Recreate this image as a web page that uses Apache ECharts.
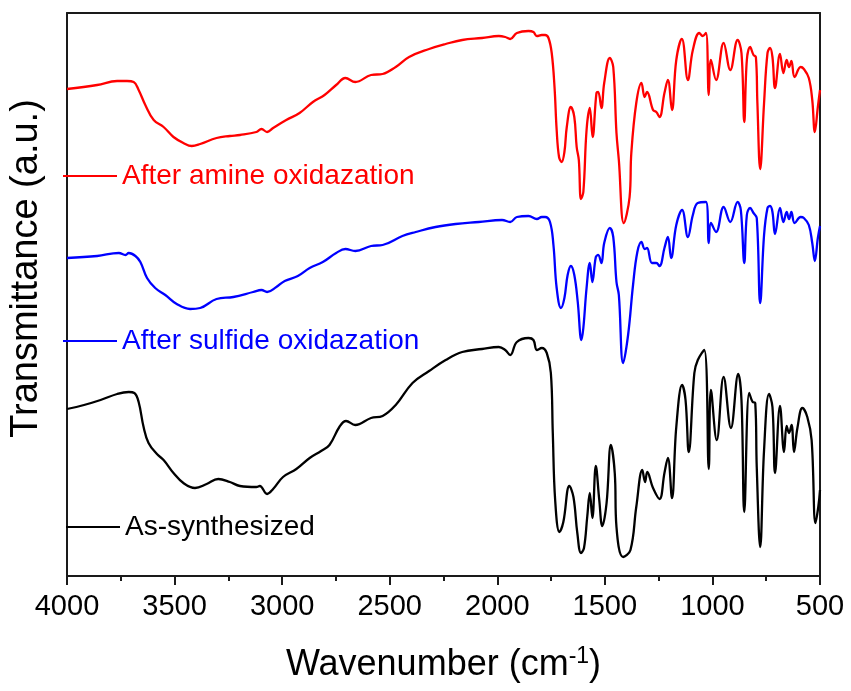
<!DOCTYPE html>
<html>
<head>
<meta charset="utf-8">
<script src="https://cdn.jsdelivr.net/npm/echarts@6/dist/echarts.min.js"></script>
<style>
html,body{margin:0;padding:0;background:#fff;}
#chart{width:851px;height:691px;}
</style>
</head>
<body>
<div id="chart"></div>
<script>
// x-axis ticks
const xTicks = [4000, 3500, 3000, 2500, 2000, 1500, 1000, 500];

// After amine oxidazation (red)
const wnAmine = [4000,3860,3767,3721,3690,3667,3636,3597,3551,3505,3459,3420,3381,3305,3243,3196,3120,3096,3070,3042,2981,2919,2857,2803,2749,2706,2660,2587,2533,2472,2410,2317,2240,2163,2071,1993,1963,1940,1909,1855,1832,1816,1793,1778,1762,1747,1734,1724,1713,1701,1688,1677,1658,1642,1631,1621,1611,1600,1585,1570,1557,1539,1531,1516,1503,1477,1461,1446,1435,1412,1385,1377,1354,1330,1315,1304,1276,1261,1246,1223,1207,1188,1168,1142,1114,1091,1061,1045,1030,1017,1007,983,948,917,883,865,852,840,825,809,798,791,778,760,744,732,721,709,686,670,655,644,633,618,590,575,552,536,524,510,500];
const tAmine = [487,491,495,495,494,486,471,456,449,439,433,430,432,438,440,441,444,447,444,448,456,463,474,481,491,498,494,501,502,509,519,527,532,536,538,540,539,537,543,545,544,540,541,541,538,523,489,446,419,414,424,449,469,459,429,416,377,384,446,468,439,483,484,468,493,518,509,443,416,353,379,423,473,493,479,484,466,464,459,483,496,466,516,537,496,526,543,540,543,481,516,496,533,506,536,523,454,516,529,521,519,473,407,473,523,528,519,488,522,503,516,509,515,499,509,507,498,476,444,469,486];

// After sulfide oxidazation (blue)
const wnSulfide = [4000,3860,3759,3728,3713,3682,3659,3628,3590,3543,3490,3428,3381,3305,3227,3135,3096,3070,3027,2988,2927,2872,2811,2749,2706,2660,2587,2533,2441,2379,2287,2194,2086,1978,1940,1909,1855,1816,1793,1778,1755,1739,1724,1704,1688,1673,1658,1642,1626,1609,1600,1585,1570,1558,1542,1531,1516,1503,1477,1461,1446,1435,1415,1392,1369,1349,1330,1315,1304,1281,1261,1246,1223,1207,1192,1168,1141,1114,1091,1068,1030,1017,1007,983,948,917,883,868,852,840,825,809,794,778,760,744,732,721,709,686,670,655,644,633,618,590,575,552,536,524,510,500];
const tSulfide = [318,320,323,321,323,320,314,298,288,281,272,267,268,277,279,284,286,284,289,295,300,308,314,323,327,325,330,331,340,344,349,352,354,356,354,359,360,357,359,359,354,331,288,268,278,301,310,301,274,236,248,288,313,294,319,321,313,333,348,339,294,281,213,241,291,324,334,327,328,313,313,310,328,339,318,351,366,339,361,373,374,333,353,344,369,354,374,366,313,361,368,363,358,273,341,368,370,364,342,368,354,364,357,364,353,359,358,351,333,315,338,350];

// As-synthesized (black)
const wnAsSyn = [4000,3921,3844,3767,3713,3687,3667,3644,3621,3582,3551,3505,3459,3405,3351,3297,3243,3196,3120,3104,3070,3042,2996,2934,2872,2819,2780,2734,2703,2660,2587,2533,2472,2394,2317,2240,2163,2071,1993,1963,1940,1909,1855,1832,1816,1793,1770,1751,1742,1731,1711,1693,1665,1646,1628,1611,1597,1582,1570,1558,1542,1526,1512,1492,1472,1454,1446,1415,1381,1354,1326,1313,1303,1276,1246,1223,1207,1188,1168,1141,1125,1110,1084,1068,1038,1017,1007,980,948,914,880,865,852,829,813,801,794,778,760,737,721,709,686,667,655,644,632,621,605,582,559,539,521,508,500];
const tAsSyn = [167,171,176,182,184,183,174,149,133,122,116,103,93,88,92,97,94,90,89,90,82,87,99,107,118,125,131,149,155,151,158,160,171,193,205,216,224,227,229,226,221,234,238,236,226,228,223,203,143,76,44,54,90,79,43,23,28,59,83,58,110,76,50,73,131,103,49,19,26,69,106,94,104,88,77,103,118,78,149,191,176,124,203,216,226,107,186,136,199,148,202,176,64,183,174,173,109,29,126,182,169,103,170,124,150,143,151,124,148,168,159,136,53,69,86];

const seriesNames = ['After amine oxidazation', 'After sulfide oxidazation', 'As-synthesized'];
const seriesColors = ['#ff0000', '#0000ff', '#000000'];

function zip(a, b) { return a.map((v, i) => [v, b[i]]); }

const FONT = '"Liberation Sans", Arial, sans-serif';
const chart = echarts.init(document.getElementById('chart'), null, {renderer: 'canvas'});

const axisLineStyle = {color: '#1a1a1a', width: 2};

const legendPos = [
  {left: 63, top: 162},
  {left: 63, top: 327},
  {left: 66, top: 513}
];

chart.setOption({
  animation: false,
  backgroundColor: '#ffffff',
  grid: {left: 63, right: 31, top: 13, bottom: 115, containLabel: false},
  legend: seriesNames.map((n, i) => ({
    data: [n],
    left: legendPos[i].left,
    top: legendPos[i].top,
    orient: 'horizontal',
    icon: 'rect',
    itemWidth: 54,
    itemHeight: 2,
    padding: 0,
    selectedMode: false,
    textStyle: {color: seriesColors[i], fontSize: 28, fontFamily: FONT}
  })),
  xAxis: [{
    type: 'value',
    min: 500,
    max: 4000,
    interval: 500,
    inverse: true,
    position: 'bottom',
    axisLine: {show: true, onZero: false, lineStyle: axisLineStyle},
    axisTick: {show: true, inside: false, length: 9, lineStyle: axisLineStyle},
    minorTick: {show: true, splitNumber: 2, length: 5, lineStyle: axisLineStyle},
    splitLine: {show: false},
    axisLabel: {
      color: '#000', fontSize: 29, fontFamily: FONT, margin: 16,
      formatter: v => (xTicks.indexOf(v) >= 0 ? String(v) : '')
    },
    name: '{a|Wavenumber (cm}{s|-1}{a|)}',
    nameLocation: 'middle',
    nameGap: 69,
    nameTextStyle: {
      rich: {
        a: {fontSize: 36, fontFamily: FONT, color: '#000', lineHeight: 40},
        s: {fontSize: 23, fontFamily: FONT, color: '#000', verticalAlign: 'top', lineHeight: 26}
      }
    }
  }, {
    type: 'value',
    min: 500,
    max: 4000,
    inverse: true,
    position: 'top',
    axisLine: {show: true, onZero: false, lineStyle: axisLineStyle},
    axisTick: {show: false},
    axisLabel: {show: false},
    splitLine: {show: false}
  }],
  yAxis: [{
    type: 'value',
    min: 0,
    max: 563,
    position: 'left',
    axisLine: {show: true, onZero: false, lineStyle: axisLineStyle},
    axisTick: {show: false},
    axisLabel: {show: false},
    splitLine: {show: false},
    name: 'Transmittance (a.u.)',
    nameLocation: 'middle',
    nameRotate: 90,
    nameGap: 21,
    nameTextStyle: {fontSize: 38, fontFamily: FONT, color: '#000', padding: [0, 0, 0, 52]}
  }, {
    type: 'value',
    min: 0,
    max: 563,
    position: 'right',
    axisLine: {show: true, onZero: false, lineStyle: axisLineStyle},
    axisTick: {show: false},
    axisLabel: {show: false},
    splitLine: {show: false}
  }],
  series: [
    {name: seriesNames[0], data: zip(wnAmine, tAmine)},
    {name: seriesNames[1], data: zip(wnSulfide, tSulfide)},
    {name: seriesNames[2], data: zip(wnAsSyn, tAsSyn)}
  ].map((s, i) => ({
    name: s.name,
    type: 'line',
    xAxisIndex: 0,
    yAxisIndex: 0,
    data: s.data,
    showSymbol: false,
    symbol: 'none',
    smooth: 0.4,
    color: seriesColors[i],
    lineStyle: {color: seriesColors[i], width: 2.3},
    clip: true
  }))
});
</script>
</body>
</html>
